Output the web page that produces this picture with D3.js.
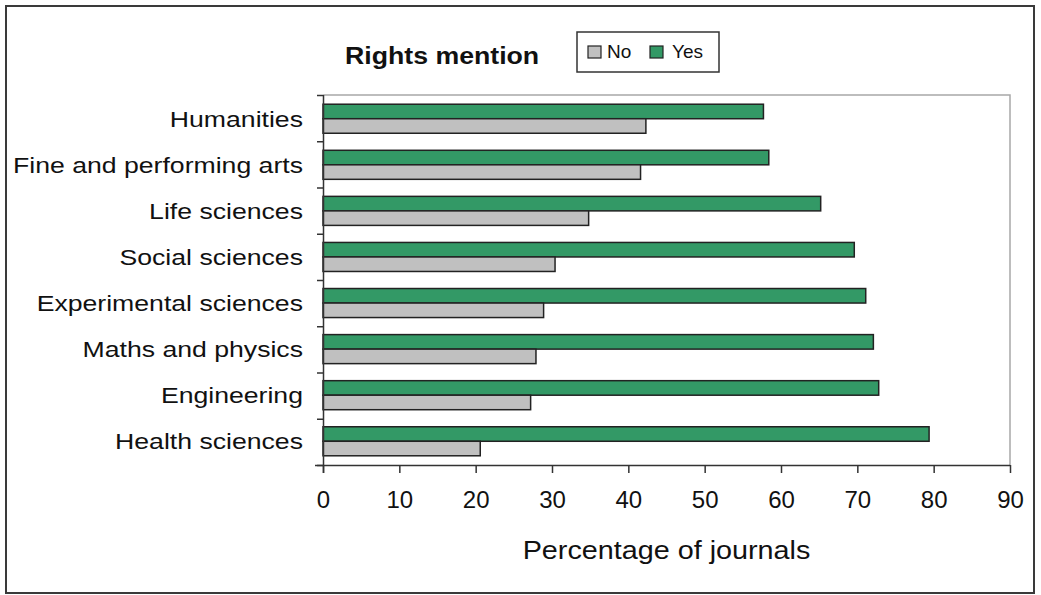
<!DOCTYPE html>
<html>
<head>
<meta charset="utf-8">
<script src="https://cdn.jsdelivr.net/npm/d3@7/dist/d3.min.js"></script>
<style>
  html, body { margin: 0; padding: 0; background: #fff; }
  svg { display: block; }
  text { font-family: "Liberation Sans", Arial, sans-serif; fill: #111; }
</style>
</head>
<body>
<svg id="chart" width="1041" height="595"></svg>
<script>
const categories = ["Humanities", "Fine and performing arts", "Life sciences", "Social sciences",
  "Experimental sciences", "Maths and physics", "Engineering", "Health sciences"];
const noValues  = [42.3, 41.6, 34.8, 30.4, 28.9, 27.9, 27.2, 20.6];
const yesValues = [57.7, 58.4, 65.2, 69.6, 71.1, 72.1, 72.8, 79.4];
const seriesNames = ["Yes", "No"];
const tickValues = [0, 10, 20, 30, 40, 50, 60, 70, 80, 90];
const titleText = "Rights mention";
const xTitle = "Percentage of journals";

const colors = { Yes: "#339966", No: "#c0c0c0" };

(function() {
const svg = d3.select("#chart");
const pLeft = 323, pRight = 1010, pTop = 95, pBottom = 465;

function stretch(sel, k) {
  sel.each(function() {
    const len = this.getComputedTextLength();
    d3.select(this).attr("textLength", len * k).attr("lengthAdjust", "spacingAndGlyphs");
  });
}

// outer frame
svg.append("rect").attr("x", 6).attr("y", 6).attr("width", 1028).attr("height", 587)
  .attr("fill", "#fff").attr("stroke", "#3a3a3a").attr("stroke-width", 2);

const x = d3.scaleLinear().domain([0, 90]).range([pLeft, pRight]);
const y = d3.scaleBand().domain(categories).range([pTop, pBottom]).paddingInner(0.37).paddingOuter(0.2);
const ySub = d3.scaleBand().domain(seriesNames).range([0, y.bandwidth()]);
const yIdx = d3.scaleLinear().domain([0, categories.length]).range([pTop, pBottom]);

// plot area border (top, right)
svg.append("path")
  .attr("d", `M${pLeft},${pTop}H${pRight}V${pBottom}`)
  .attr("fill", "none").attr("stroke", "#a8a8a8").attr("stroke-width", 1.5);

const data = categories.map((c, i) => ({ cat: c, Yes: yesValues[i], No: noValues[i] }));

const g = svg.append("g");
data.forEach(d => {
  seriesNames.forEach(s => {
    g.append("rect")
      .attr("x", x(0))
      .attr("y", y(d.cat) + ySub(s))
      .attr("width", x(d[s]) - x(0))
      .attr("height", ySub.bandwidth())
      .attr("fill", colors[s])
      .attr("stroke", "#222")
      .attr("stroke-width", 1.5);
  });
});

// x axis
const xAxis = svg.append("g").attr("transform", `translate(0,${pBottom})`)
  .call(d3.axisBottom(x).tickValues(tickValues).tickSize(8).tickSizeOuter(0).tickPadding(18));
xAxis.select(".domain").attr("d", `M${pLeft - 8},0.5H${pRight}`).attr("stroke", "#333").attr("stroke-width", 1.5);
xAxis.selectAll(".tick line").attr("stroke", "#333").attr("stroke-width", 1.5);
xAxis.selectAll(".tick text").style("font-size", "24px").attr("fill", "#111")
  .style("font-family", "'Liberation Sans', Arial, sans-serif");

// y axis (ticks at category boundaries)
const yAxis = svg.append("g").attr("transform", `translate(${pLeft},0)`)
  .call(d3.axisLeft(yIdx).tickValues(d3.range(categories.length + 1))
    .tickFormat("").tickSize(6).tickSizeOuter(0));
yAxis.select(".domain").attr("d", `M0.5,${pTop}V${pBottom + 8}`).attr("stroke", "#333").attr("stroke-width", 1.5);
yAxis.selectAll(".tick line").attr("stroke", "#333").attr("stroke-width", 1.5);

// category labels
svg.append("g").selectAll("text").data(categories).join("text")
  .attr("x", 303)
  .attr("y", d => y(d) + y.bandwidth() / 2 + 8)
  .attr("text-anchor", "end")
  .style("font-size", "22px")
  .text(d => d)
  .call(stretch, 1.21);

// x title
svg.append("text").attr("x", (pLeft + pRight) / 2).attr("y", 559)
  .attr("text-anchor", "middle").style("font-size", "25px").text(xTitle)
  .call(stretch, 1.15);

// title
svg.append("text").attr("x", 345).attr("y", 64)
  .style("font-size", "23px").style("font-weight", "bold").text(titleText)
  .call(stretch, 1.16);

// legend
const lg = svg.append("g");
lg.append("rect").attr("x", 577).attr("y", 32).attr("width", 142).attr("height", 40)
  .attr("fill", "#fff").attr("stroke", "#333").attr("stroke-width", 1.5);
const legendItems = [{ name: "No", sx: 588, tx: 607 }, { name: "Yes", sx: 650, tx: 672 }];
legendItems.forEach(it => {
  lg.append("rect").attr("x", it.sx).attr("y", 46).attr("width", 13).attr("height", 12)
    .attr("fill", colors[it.name]).attr("stroke", "#222").attr("stroke-width", 1.2);
  lg.append("text").attr("x", it.tx).attr("y", 58).style("font-size", "19px").text(it.name);
});
})();
</script>
</body>
</html>
